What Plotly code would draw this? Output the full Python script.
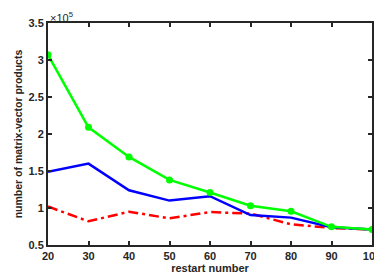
import plotly.graph_objects as go

# restart numbers and counts of matrix-vector products (x 10^5)
restart = [20, 30, 40, 50, 60, 70, 80, 90, 100]
green_vals = [3.07, 2.09, 1.69, 1.38, 1.21, 1.03, 0.955, 0.745, 0.71]
blue_vals = [1.49, 1.60, 1.24, 1.10, 1.16, 0.905, 0.87, 0.74, 0.71]
red_vals = [1.02, 0.82, 0.95, 0.86, 0.945, 0.925, 0.78, 0.73, 0.71]

ytick_vals = [0.5, 1, 1.5, 2, 2.5, 3, 3.5]
ytick_text = ["0.5", "1", "1.5", "2", "2.5", "3", "3.5"]

fig = go.Figure()
fig.add_trace(go.Scatter(x=restart, y=red_vals, mode="lines",
                         line=dict(color="#ff0000", width=2.5, dash="10px,4px,3px,4px")))
fig.add_trace(go.Scatter(x=restart, y=blue_vals, mode="lines",
                         line=dict(color="#0000ff", width=2.5)))
fig.add_trace(go.Scatter(x=restart, y=green_vals, mode="lines+markers",
                         line=dict(color="#00ff00", width=2.5),
                         marker=dict(color="#00ff00", size=7)))

axis_style = dict(showline=True, linecolor="#262626", linewidth=2, mirror="ticks",
                  ticks="inside", ticklen=4, tickwidth=1.5, tickcolor="#262626",
                  showgrid=False, zeroline=False,
                  tickfont=dict(family="Liberation Sans", size=11, color="#262626", weight="bold"))

fig.update_xaxes(range=[20, 100], tickvals=restart,
                 title=dict(text="restart number", standoff=2,
                            font=dict(family="Liberation Sans", size=11, color="#262626", weight="bold")),
                 **axis_style)
fig.update_yaxes(range=[0.5, 3.5], tickvals=ytick_vals, ticktext=ytick_text,
                 title=dict(text="number of matrix-vector products", standoff=4,
                            font=dict(family="Liberation Sans", size=10.5, color="#262626", weight="bold")),
                 **axis_style)

fig.add_annotation(x=0, y=1, xref="paper", yref="paper", xanchor="left", yanchor="bottom",
                   text="×10<sup>5</sup>", showarrow=False, yshift=-3,
                   font=dict(family="Liberation Sans", size=11, color="#262626"))

fig.update_layout(width=382, height=273, showlegend=False,
                  paper_bgcolor="white", plot_bgcolor="white",
                  margin=dict(l=35, r=9, t=14, b=28))
fig.write_html("out.html")
